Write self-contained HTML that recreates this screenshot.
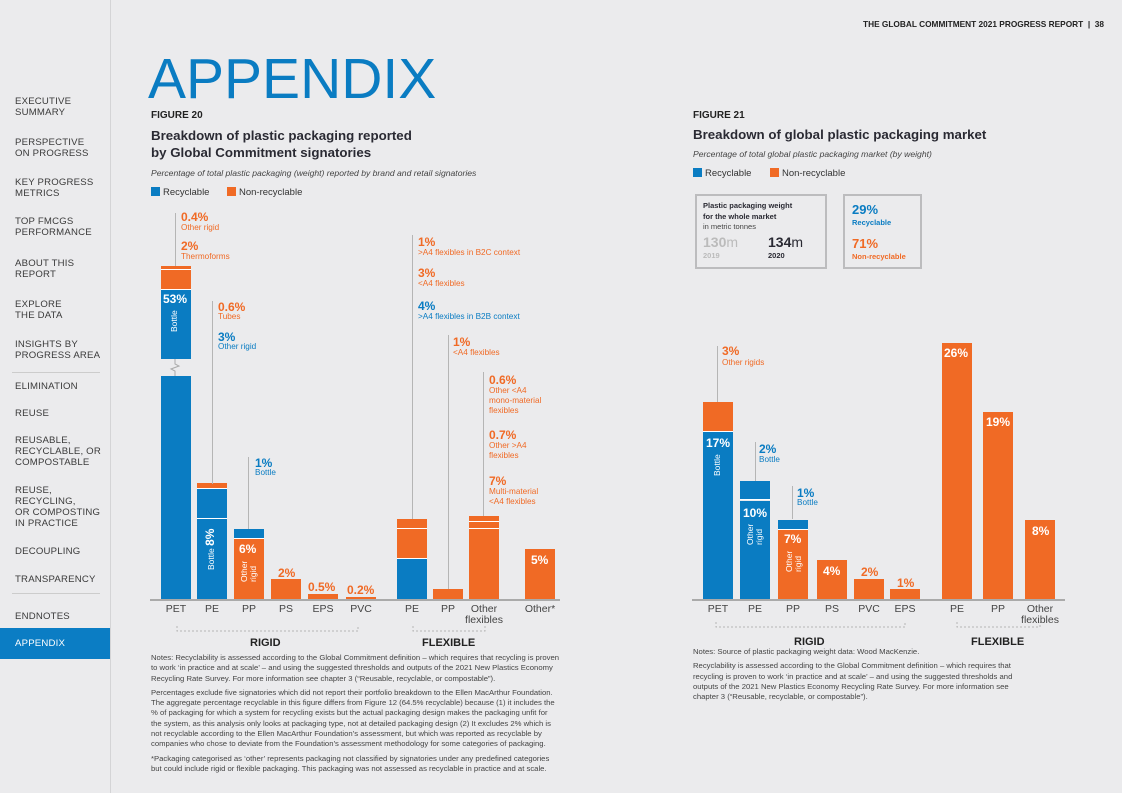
<!DOCTYPE html>
<html><head><meta charset="utf-8">
<style>
*{margin:0;padding:0;box-sizing:border-box}
body{width:1122px;height:793px;background:#ebebed;position:relative;overflow:hidden;font-family:"Liberation Sans",sans-serif;color:#333}
.a{position:absolute;white-space:nowrap}
.nav{position:absolute;left:15px;font-size:9.6px;line-height:11px;color:#3a3a3a;letter-spacing:0.2px}
.b{color:#0a7cc2}.o{color:#f06a25}
.pc{font-weight:bold;font-size:12px}
.sm{font-size:8.2px;line-height:10px}
.w{color:#fff;font-weight:bold}
.xl{font-size:10.5px;color:#444;text-align:center;line-height:11px}
.cl{position:absolute;width:1px;background:#b5b5b5}
.note{font-size:7.7px;line-height:10.3px;color:#444}
.rot{position:absolute;transform:rotate(-90deg);transform-origin:left top;color:#fff;font-size:8.5px;line-height:9px;white-space:nowrap}
</style></head><body>
<!-- sidebar -->
<div class="a" style="left:110px;top:0;width:1px;height:793px;background:#d4d4d6"></div>
<div class="nav" style="top:96px">EXECUTIVE<br>SUMMARY</div>
<div class="nav" style="top:137px">PERSPECTIVE<br>ON PROGRESS</div>
<div class="nav" style="top:177px">KEY PROGRESS<br>METRICS</div>
<div class="nav" style="top:216px">TOP FMCGS<br>PERFORMANCE</div>
<div class="nav" style="top:258px">ABOUT THIS<br>REPORT</div>
<div class="nav" style="top:299px">EXPLORE<br>THE DATA</div>
<div class="nav" style="top:339px">INSIGHTS BY<br>PROGRESS AREA</div>
<div class="a" style="left:12px;top:372px;width:88px;height:1px;background:#ccc"></div>
<div class="nav" style="top:381px">ELIMINATION</div>
<div class="nav" style="top:408px">REUSE</div>
<div class="nav" style="top:435px">REUSABLE,<br>RECYCLABLE, OR<br>COMPOSTABLE</div>
<div class="nav" style="top:485px">REUSE,<br>RECYCLING,<br>OR COMPOSTING<br>IN PRACTICE</div>
<div class="nav" style="top:546px">DECOUPLING</div>
<div class="nav" style="top:574px">TRANSPARENCY</div>
<div class="a" style="left:12px;top:593px;width:88px;height:1px;background:#ccc"></div>
<div class="nav" style="top:611px">ENDNOTES</div>
<div class="a" style="left:0;top:628px;width:110px;height:31px;background:#0b7dc4"></div>
<div class="nav" style="top:638px;color:#fff">APPENDIX</div>

<div class="a" style="right:18px;top:19px;font-size:8.3px;font-weight:bold;color:#222">THE GLOBAL COMMITMENT 2021 PROGRESS REPORT &nbsp;|&nbsp; 38</div>
<div class="a" style="left:148px;top:49px;font-size:57px;color:#0a7cc2;line-height:60px">APPENDIX</div>

<!-- fig 20 header -->
<div class="a" style="left:151px;top:110px;font-size:10px;font-weight:bold;color:#222">FIGURE 20</div>
<div class="a" style="left:151px;top:127px;font-size:13.3px;font-weight:bold;color:#2a2a33;line-height:17px">Breakdown of plastic packaging reported<br>by Global Commitment signatories</div>
<div class="a" style="left:151px;top:168px;font-size:8.6px;font-style:italic;color:#444">Percentage of total plastic packaging (weight) reported by brand and retail signatories</div>
<div class="a" style="left:151px;top:187px;font-size:9.5px;color:#333"><span style="display:inline-block;width:9px;height:9px;background:#0a7cc2;vertical-align:-1px;margin-right:3px"></span>Recyclable</div>
<div class="a" style="left:227px;top:187px;font-size:9.5px;color:#333"><span style="display:inline-block;width:9px;height:9px;background:#f06a25;vertical-align:-1px;margin-right:3px"></span>Non-recyclable</div>

<!-- fig 21 header -->
<div class="a" style="left:693px;top:110px;font-size:10px;font-weight:bold;color:#222">FIGURE 21</div>
<div class="a" style="left:693px;top:127px;font-size:13.3px;font-weight:bold;color:#2a2a33">Breakdown of global plastic packaging market</div>
<div class="a" style="left:693px;top:149px;font-size:8.6px;font-style:italic;color:#444">Percentage of total global plastic packaging market (by weight)</div>
<div class="a" style="left:693px;top:168px;font-size:9.5px;color:#333"><span style="display:inline-block;width:9px;height:9px;background:#0a7cc2;vertical-align:-1px;margin-right:3px"></span>Recyclable</div>
<div class="a" style="left:770px;top:168px;font-size:9.5px;color:#333"><span style="display:inline-block;width:9px;height:9px;background:#f06a25;vertical-align:-1px;margin-right:3px"></span>Non-recyclable</div>

<div class="a" style="left:695px;top:194px;width:132px;height:75px;border:2px solid #bcbcbe">
 <div class="a" style="left:6px;top:5px;font-size:7.5px;font-weight:bold;color:#2a2a33;line-height:10.5px">Plastic packaging weight<br>for the whole market<br><span style="font-weight:normal;color:#444">in metric tonnes</span></div>
 <div class="a" style="left:6px;top:38px;font-size:14px;font-weight:bold;color:#bbb">130<span style="font-weight:normal">m</span></div>
 <div class="a" style="left:6px;top:55px;font-size:7.5px;font-weight:bold;color:#bbb">2019</div>
 <div class="a" style="left:71px;top:38px;font-size:14px;font-weight:bold;color:#2a2a33">134<span style="font-weight:normal">m</span></div>
 <div class="a" style="left:71px;top:55px;font-size:7.5px;font-weight:bold;color:#2a2a33">2020</div>
</div>
<div class="a" style="left:843px;top:194px;width:79px;height:75px;border:2px solid #bcbcbe">
 <div class="a b" style="left:7px;top:6px;font-size:13px;font-weight:bold">29%</div>
 <div class="a b" style="left:7px;top:22px;font-size:7.5px;font-weight:bold">Recyclable</div>
 <div class="a o" style="left:7px;top:40px;font-size:13px;font-weight:bold">71%</div>
 <div class="a o" style="left:7px;top:56px;font-size:7.5px;font-weight:bold">Non-recyclable</div>
</div>

<div id="charts"></div>

<!-- callout lines fig 20 -->
<div class="cl" style="left:175px;top:213px;height:53px"></div>
<div class="cl" style="left:212px;top:301px;height:183px"></div>
<div class="cl" style="left:248px;top:457px;height:72px"></div>
<div class="cl" style="left:412px;top:235px;height:284px"></div>
<div class="cl" style="left:448px;top:335px;height:254px"></div>
<div class="cl" style="left:483px;top:372px;height:144px"></div>
<!-- callout lines fig 21 -->
<div class="cl" style="left:717px;top:346px;height:56px"></div>
<div class="cl" style="left:755px;top:442px;height:39px"></div>
<div class="cl" style="left:792px;top:486px;height:33px"></div>

<!-- fig 20 annotations -->
<div class="a o pc" style="left:181px;top:210px">0.4%</div>
<div class="a o sm" style="left:181px;top:223px">Other rigid</div>
<div class="a o pc" style="left:181px;top:239px">2%</div>
<div class="a o sm" style="left:181px;top:252px">Thermoforms</div>
<div class="a o pc" style="left:218px;top:300px">0.6%</div>
<div class="a o sm" style="left:218px;top:312px">Tubes</div>
<div class="a b pc" style="left:218px;top:330px">3%</div>
<div class="a b sm" style="left:218px;top:342px">Other rigid</div>
<div class="a b pc" style="left:255px;top:456px">1%</div>
<div class="a b sm" style="left:255px;top:468px">Bottle</div>
<div class="a o pc" style="left:418px;top:235px">1%</div>
<div class="a o sm" style="left:418px;top:248px">&gt;A4 flexibles in B2C context</div>
<div class="a o pc" style="left:418px;top:266px">3%</div>
<div class="a o sm" style="left:418px;top:279px">&lt;A4 flexibles</div>
<div class="a b pc" style="left:418px;top:299px">4%</div>
<div class="a b sm" style="left:418px;top:312px">&gt;A4 flexibles in B2B context</div>
<div class="a o pc" style="left:453px;top:335px">1%</div>
<div class="a o sm" style="left:453px;top:348px">&lt;A4 flexibles</div>
<div class="a o pc" style="left:489px;top:373px">0.6%</div>
<div class="a o sm" style="left:489px;top:386px">Other &lt;A4<br>mono-material<br>flexibles</div>
<div class="a o pc" style="left:489px;top:428px">0.7%</div>
<div class="a o sm" style="left:489px;top:441px">Other &gt;A4<br>flexibles</div>
<div class="a o pc" style="left:489px;top:474px">7%</div>
<div class="a o sm" style="left:489px;top:487px">Multi-material<br>&lt;A4 flexibles</div>

<div class="a w pc" style="left:163px;top:292px">53%</div>
<div class="rot" style="left:170px;top:332px">Bottle</div>
<div class="rot" style="left:206px;top:570px">Bottle <b style="font-size:12px">8%</b></div>
<div class="a w pc" style="left:239px;top:542px">6%</div>
<div class="rot" style="left:240px;top:582px">Other<br>rigid</div>
<div class="a o pc" style="left:278px;top:566px">2%</div>
<div class="a o pc" style="left:308px;top:580px">0.5%</div>
<div class="a o pc" style="left:347px;top:583px">0.2%</div>
<div class="a w pc" style="left:531px;top:553px">5%</div>

<!-- fig 21 annotations -->
<div class="a o pc" style="left:722px;top:344px">3%</div>
<div class="a o sm" style="left:722px;top:358px">Other rigids</div>
<div class="a b pc" style="left:759px;top:442px">2%</div>
<div class="a b sm" style="left:759px;top:455px">Bottle</div>
<div class="a b pc" style="left:797px;top:486px">1%</div>
<div class="a b sm" style="left:797px;top:498px">Bottle</div>
<div class="a w pc" style="left:706px;top:436px">17%</div>
<div class="rot" style="left:713px;top:476px">Bottle</div>
<div class="a w pc" style="left:743px;top:506px">10%</div>
<div class="rot" style="left:746px;top:545px">Other<br>rigid</div>
<div class="a w pc" style="left:784px;top:532px">7%</div>
<div class="rot" style="left:785px;top:572px">Other<br>rigid</div>
<div class="a w pc" style="left:823px;top:564px">4%</div>
<div class="a o pc" style="left:861px;top:565px">2%</div>
<div class="a o pc" style="left:897px;top:576px">1%</div>
<div class="a w pc" style="left:944px;top:346px">26%</div>
<div class="a w pc" style="left:986px;top:415px">19%</div>
<div class="a w pc" style="left:1032px;top:524px">8%</div>

<!-- group brackets -->
<svg class="a" style="left:0;top:0" width="1122" height="793">
 <g stroke="#b5b5b5" stroke-width="1" fill="none" stroke-dasharray="2,2">
  <path d="M177 626 V631 H358 V626"/>
  <path d="M413 626 V631 H485 V626"/>
  <path d="M716 622 V627 H905 V622"/>
  <path d="M957 622 V627 H1040 V622"/>
 </g>
</svg>
<div class="a" style="left:250px;top:637px;font-size:11px;font-weight:bold;color:#222">RIGID</div>
<div class="a" style="left:422px;top:637px;font-size:11px;font-weight:bold;color:#222">FLEXIBLE</div>
<div class="a" style="left:794px;top:636px;font-size:11px;font-weight:bold;color:#222">RIGID</div>
<div class="a" style="left:971px;top:636px;font-size:11px;font-weight:bold;color:#222">FLEXIBLE</div>

<!-- notes -->
<div class="a note" style="left:151px;top:653px">Notes: Recyclability is assessed according to the Global Commitment definition – which requires that recycling is proven<br>to work ‘in practice and at scale’ – and using the suggested thresholds and outputs of the 2021 New Plastics Economy<br>Recycling Rate Survey. For more information see chapter 3 (“Reusable, recyclable, or compostable”).
<div style="height:4px"></div>Percentages exclude five signatories which did not report their portfolio breakdown to the Ellen MacArthur Foundation.<br>The aggregate percentage recyclable in this figure differs from Figure 12 (64.5% recyclable) because (1) it includes the<br>% of packaging for which a system for recycling exists but the actual packaging design makes the packaging unfit for<br>the system, as this analysis only looks at packaging type, not at detailed packaging design (2) It excludes 2% which is<br>not recyclable according to the Ellen MacArthur Foundation’s assessment, but which was reported as recyclable by<br>companies who chose to deviate from the Foundation’s assessment methodology for some categories of packaging.
<div style="height:4px"></div>*Packaging categorised as ‘other’ represents packaging not classified by signatories under any predefined categories<br>but could include rigid or flexible packaging. This packaging was not assessed as recyclable in practice and at scale.</div>
<div class="a note" style="left:693px;top:647px">Notes: Source of plastic packaging weight data: Wood MacKenzie.
<div style="height:4px"></div>Recyclability is assessed according to the Global Commitment definition – which requires that<br>recycling is proven to work ‘in practice and at scale’ – and using the suggested thresholds and<br>outputs of the 2021 New Plastics Economy Recycling Rate Survey. For more information see<br>chapter 3 (“Reusable, recyclable, or compostable”).</div>

<script>
// Figure 20 data
const cats20 = ['PET','PE','PP','PS','EPS','PVC','PE','PP','Other\nflexibles','Other*'];
const blue20 = [[53],[8,3],[1],[],[],[],[4],[],[],[]];
const orange20 = [[2,0.4],[0.6],[6],[2],[0.5],[0.2],[3,1],[1],[7,0.7,0.6],[5]];
const blueOnTop20 = [false,false,true,false,false,false,false,false,false,false];
// Figure 21 data
const cats21 = ['PET','PE','PP','PS','PVC','EPS','PE','PP','Other\nflexibles'];
const blue21 = [[17],[10,2],[1],[],[],[],[],[],[]];
const orange21 = [[3],[],[7],[4],[2],[1],[26],[19],[8]];
const blueOnTop21 = [false,false,true,false,false,false,false,false,false];

const BLUE='#0a7cc2', ORANGE='#f06a25', BASE=599;
const slots20 = [161,197,234,271,308,346,397,433,469,525];
const slots21 = [703,740,778,817,854,890,942,983,1025];
// broken axis: 20–50% compressed
function h20(v){
  if (v <= 20) return v*10;
  if (v <= 50) return 200 + (v-20)*2.63;
  return 278.9 + (v-50)*10;
}
function h21(v){ return v*9.85; }
const root = document.getElementById('charts');

function drawChart(prefix, cats, blue, orange, blueTop, slots, hf, axisL, axisR){
  const ax = document.createElement('div');
  
  
  ax.style.cssText = 'position:absolute;left:'+axisL+'px;top:'+BASE+'px;width:'+(axisR-axisL)+'px;height:1.5px;background:#aaa';
  root.appendChild(ax);
  cats.forEach(function(c,i){
    const order = blueTop[i] ? [[orange[i],ORANGE],[blue[i],BLUE]] : [[blue[i],BLUE],[orange[i],ORANGE]];
    let cum = 0;
    order.forEach(function(pair){
      pair[0].forEach(function(v){
        const y0 = BASE - hf(cum);
        cum += v;
        const y1 = BASE - hf(cum);
        const seg = document.createElement('div');
        
        
        seg.style.cssText = 'position:absolute;left:'+slots[i]+'px;top:'+y1+'px;width:30px;height:'+(y0-y1)+'px;background:'+pair[1]+';'+(cum>v?'border-bottom:1.5px solid #fff;':'');
        root.appendChild(seg);
      });
    });
    const lb = document.createElement('div');
    
    
    lb.className = 'xl';
    lb.style.cssText = 'position:absolute;left:'+(slots[i]-15)+'px;top:'+(BASE+5)+'px;width:60px';
    lb.innerHTML = c.replace('\n','<br>');
    root.appendChild(lb);
  });
}
drawChart('fig20', cats20, blue20, orange20, blueOnTop20, slots20, h20, 150, 560);
drawChart('fig21', cats21, blue21, orange21, blueOnTop21, slots21, h21, 692, 1065);

// axis break on PET bar (fig 20)
const brk = document.createElement('div');


brk.style.cssText = 'position:absolute;left:159px;top:359px;width:34px;height:17px;background:#ebebed';
brk.innerHTML = '<svg width="34" height="17"><path d="M16 0 V5 L20 7 L12 10 L16 12 V17" stroke="#aaa" fill="none"/></svg>';
root.appendChild(brk);
</script>
</body></html>
